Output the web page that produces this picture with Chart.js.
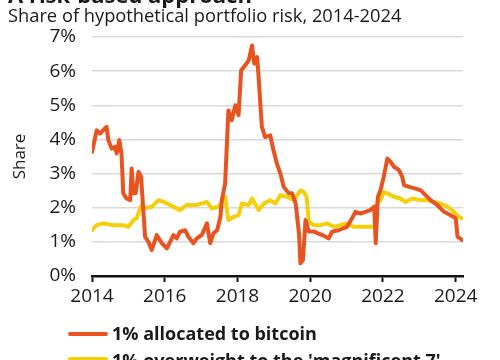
<!DOCTYPE html>
<html>
<head>
<meta charset="utf-8">
<script src="https://cdn.jsdelivr.net/npm/chart.js@4/dist/chart.umd.min.js"></script>
<style>
  html, body { margin: 0; padding: 0; background: #fff; }
  #wrap { position: relative; width: 500px; height: 360px; overflow: hidden; font-family: "Open Sans", sans-serif; color: #1a1a1a; }
  #title { position: absolute; left: 8px; top: -17px; font-size: 22px; font-weight: 700; line-height: 22px; white-space: nowrap; }
  #subtitle { position: absolute; left: 8px; top: 5px; font-size: 18.3px; line-height: 20px; white-space: nowrap; }
  canvas { position: absolute; left: 0; top: 0; }
  .leg { position: absolute; left: 68px; font-size: 18px; font-weight: 700; line-height: 20px; white-space: nowrap; }
  .leg span.sw { position: absolute; left: 0; width: 40px; height: 4px; border-radius: 2px; }
  .leg span.tx { position: absolute; left: 44px; top: 0; }
</style>
</head>
<body>
<div id="wrap">
  <canvas id="c" width="500" height="360"></canvas>
  <div id="title">A risk-based approach</div>
  <div id="subtitle">Share of hypothetical portfolio risk, 2014-2024</div>
  <div class="leg" style="top:323px"><span class="sw" style="top:9px;background:#e8531f"></span><span class="tx">1% allocated to bitcoin</span></div>
  <div class="leg" style="top:350px"><span class="sw" style="top:7px;background:#f5cf0a"></span><span class="tx">1% overweight to the 'magnificent 7'</span></div>
</div>
<script>
const seriesNames = ["1% allocated to bitcoin", "1% overweight to the 'magnificent 7'"];
const yTickLabels = ["0%", "1%", "2%", "3%", "4%", "5%", "6%", "7%"];
const xTickLabels = ["2014", "2016", "2018", "2020", "2022", "2024"];

const btcDates = [2014.0, 2014.13, 2014.22, 2014.31, 2014.40, 2014.45, 2014.54, 2014.63, 2014.68, 2014.75, 2014.81, 2014.86, 2014.95, 2015.05, 2015.09, 2015.14, 2015.20, 2015.28, 2015.35, 2015.41, 2015.46, 2015.55, 2015.64, 2015.78, 2015.92, 2016.06, 2016.24, 2016.33, 2016.42, 2016.56, 2016.65, 2016.79, 2016.88, 2017.02, 2017.16, 2017.25, 2017.34, 2017.44, 2017.53, 2017.57, 2017.66, 2017.75, 2017.84, 2017.94, 2018.03, 2018.10, 2018.21, 2018.31, 2018.40, 2018.46, 2018.54, 2018.58, 2018.67, 2018.76, 2018.90, 2018.99, 2019.08, 2019.18, 2019.27, 2019.41, 2019.50, 2019.60, 2019.64, 2019.69, 2019.73, 2019.80, 2019.87, 2019.96, 2020.10, 2020.33, 2020.51, 2020.60, 2020.78, 2021.01, 2021.15, 2021.24, 2021.38, 2021.52, 2021.65, 2021.76, 2021.80, 2021.86, 2021.93, 2022.02, 2022.12, 2022.21, 2022.30, 2022.44, 2022.53, 2022.58, 2022.72, 2022.90, 2023.04, 2023.17, 2023.31, 2023.49, 2023.68, 2023.86, 2024.00, 2024.05, 2024.18];
const btcValues = [3.63, 4.27, 4.17, 4.27, 4.37, 3.98, 3.73, 3.78, 3.59, 3.98, 3.59, 2.42, 2.27, 2.22, 3.15, 2.42, 2.42, 3.05, 2.90, 1.93, 1.15, 1.00, 0.76, 1.20, 0.96, 0.81, 1.20, 1.10, 1.30, 1.34, 1.15, 0.96, 1.10, 1.20, 1.54, 0.96, 1.25, 1.34, 1.73, 2.22, 2.71, 4.85, 4.56, 5.00, 4.71, 6.02, 6.17, 6.32, 6.75, 6.22, 6.41, 5.83, 4.37, 4.07, 4.12, 3.68, 3.30, 3.00, 2.61, 2.42, 2.42, 2.12, 1.73, 1.25, 0.37, 0.47, 1.64, 1.30, 1.30, 1.20, 1.10, 1.30, 1.34, 1.44, 1.69, 1.88, 1.83, 1.88, 1.93, 2.03, 0.96, 2.32, 2.51, 2.90, 3.44, 3.34, 3.20, 3.10, 2.90, 2.66, 2.61, 2.56, 2.51, 2.37, 2.22, 2.08, 1.88, 1.78, 1.69, 1.15, 1.05];

const mag7Dates = [2014.0, 2014.13, 2014.31, 2014.59, 2014.86, 2015.0, 2015.14, 2015.23, 2015.32, 2015.37, 2015.46, 2015.64, 2015.83, 2015.97, 2016.15, 2016.42, 2016.60, 2016.88, 2017.16, 2017.30, 2017.48, 2017.66, 2017.75, 2017.89, 2018.03, 2018.12, 2018.31, 2018.40, 2018.58, 2018.72, 2018.90, 2019.04, 2019.18, 2019.36, 2019.55, 2019.73, 2019.82, 2019.90, 2019.96, 2020.10, 2020.28, 2020.47, 2020.65, 2020.83, 2021.01, 2021.19, 2021.47, 2021.80, 2021.84, 2021.93, 2022.02, 2022.12, 2022.30, 2022.48, 2022.62, 2022.81, 2023.04, 2023.22, 2023.40, 2023.58, 2023.77, 2023.95, 2024.09, 2024.18];
const mag7Values = [1.34, 1.49, 1.54, 1.49, 1.49, 1.44, 1.64, 1.69, 1.98, 2.08, 1.98, 2.03, 2.22, 2.17, 2.08, 1.93, 2.08, 2.08, 2.17, 1.98, 2.03, 2.32, 1.64, 1.73, 1.78, 2.12, 2.08, 2.27, 1.93, 2.12, 2.22, 2.12, 2.37, 2.32, 2.22, 2.51, 2.46, 2.32, 1.59, 1.49, 1.49, 1.54, 1.44, 1.49, 1.54, 1.44, 1.44, 1.44, 2.17, 2.22, 2.46, 2.42, 2.32, 2.27, 2.17, 2.27, 2.22, 2.22, 2.17, 2.12, 2.03, 1.88, 1.73, 1.69];

const toPts = (xs, ys) => xs.map((x, i) => ({ x: x, y: ys[i] }));
const FONT = "'Open Sans', sans-serif";

new Chart(document.getElementById('c'), {
  type: 'line',
  data: {
    datasets: [
      { label: seriesNames[0], data: toPts(btcDates, btcValues), borderColor: '#e8531f', borderWidth: 4, pointRadius: 0, tension: 0, borderJoinStyle: 'round', borderCapStyle: 'round' },
      { label: seriesNames[1], data: toPts(mag7Dates, mag7Values), borderColor: '#f5cf0a', borderWidth: 4, pointRadius: 0, tension: 0, borderJoinStyle: 'round', borderCapStyle: 'round' }
    ]
  },
  options: {
    responsive: false,
    animation: false,
    events: [],
    layout: { padding: { top: 37, right: 37, bottom: 44, left: 8 } },
    plugins: { legend: { display: false }, tooltip: { enabled: false } },
    scales: {
      x: {
        type: 'linear', min: 2014, max: 2024.2,
        afterBuildTicks: (s) => { s.ticks = xTickLabels.map(v => ({ value: Number(v) })); },
        ticks: { callback: (v) => String(v), color: '#1a1a1a', font: { family: FONT, size: 19 }, padding: 3, maxRotation: 0, autoSkip: false },
        grid: { drawOnChartArea: false, drawTicks: true, tickLength: 6, tickColor: '#111', tickWidth: 2 },
        border: { display: true, color: '#111', width: 2.5 },
        afterFit: (s) => { s.height = 40; }
      },
      y: {
        min: 0, max: 7,
        afterBuildTicks: (s) => { s.ticks = yTickLabels.map((t, i) => ({ value: i })); },
        ticks: { callback: (v) => yTickLabels[v], color: '#1a1a1a', font: { family: FONT, size: 19 }, padding: 16, autoSkip: false },
        grid: { color: '#d9d9d9', lineWidth: 1.5, drawTicks: false },
        border: { display: false },
        title: { display: true, text: 'Share', color: '#1a1a1a', font: { family: FONT, size: 17 }, padding: { top: 2, bottom: 0 } },
        afterFit: (s) => { s.width = 84; }
      }
    }
  }
});
</script>
</body>
</html>
